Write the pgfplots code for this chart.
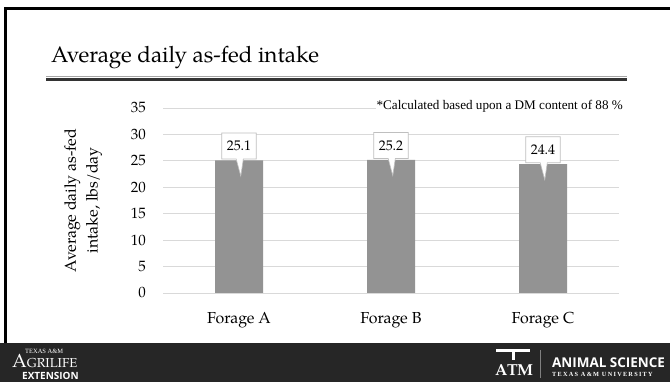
\documentclass[border=0pt]{standalone}
\usepackage{fontspec}
\setmainfont{TeX Gyre Pagella}
\newfontfamily\timesfont{Liberation Serif}
\newfontfamily\sansfont{Open Sans}
\newfontfamily\spacedfont[LetterSpace=20]{Liberation Serif}
\usepackage{pgfplots}
\pgfplotsset{compat=1.18}
\usetikzlibrary{shapes.callouts}
\definecolor{bargray}{HTML}{939393}
\definecolor{gridgray}{HTML}{D9D9D9}
\definecolor{footerc}{HTML}{262626}
\definecolor{calloutc}{HTML}{BFBFBF}
\begin{document}
\begin{tikzpicture}
\useasboundingbox (0bp,0bp) rectangle (670bp,382bp);
\begin{scope}[x=1bp,y=1bp]
\fill[white] (0,0) rectangle (670,382);
% footer band
\fill[footerc] (0,0) rectangle (670,39);
% frame
\fill[black] (4,39) rectangle (7,374.5);
\fill[black] (4,371.5) rectangle (670,374.5);
% title
\node[anchor=base west, inner sep=0pt, font=\fontsize{22.5}{27}\selectfont] at (51,320) {Average daily as-fed intake};
% title rules
\draw[gray!70, line width=0.8bp] (46,305.5) -- (627,305.5);
\fill[black!80] (46,300.5) rectangle (627,304);
\end{scope}
\begin{axis}[
  at={(163bp,89bp)}, anchor=south west,
  scale only axis, width=456bp, height=185bp,
  xmin=-0.5, xmax=2.5, ymin=0, ymax=35,
  ytick={0,5,10,15,20,25,30,35},
  xtick={0,1,2}, xticklabels={Forage A, Forage B, Forage C},
  axis line style={draw=none},
  major tick length=0pt,
  ymajorgrids, grid style={gridgray, line width=0.8bp},
  /pgf/number format/assume math mode=true,
  tick label style={font=\fontsize{15}{18}\selectfont},
  yticklabel style={anchor=east, inner sep=0pt, xshift=-17bp},
  xticklabel style={anchor=north, inner sep=0pt, yshift=-19bp, font=\fontsize{16}{19}\selectfont},
  ylabel={Average daily as-fed\\intake, lbs/day},
  ylabel style={align=center, font=\fontsize{16}{22}\selectfont, at={(axis description cs:-0.175,0.5)}, anchor=center},
  clip=false,
]
\addplot[ybar, bar width=48bp, fill=bargray, draw=none,
  nodes near coords,
  nodes near coords style={rectangle callout, fill=white, draw=calloutc, line width=0.6bp,
    font=\fontsize{14}{16}\selectfont, inner xsep=5bp, inner ysep=0pt, minimum height=26bp,
    anchor=south, yshift=1bp, callout relative pointer={(1bp,-17bp)},
    /pgf/number format/.cd, fixed, precision=1, assume math mode=true},
] coordinates {(0,25.1) (1,25.2) (2,24.4)};
\end{axis}
\begin{scope}[x=1bp,y=1bp]
% note
\node[anchor=east, fill=white, inner sep=1bp, font=\timesfont\fontsize{13.2}{15}\selectfont] at (624,276) {*Calculated based upon a DM content of 88 \%};
% footer logos left
\node[anchor=base west, inner sep=0pt, white, font=\timesfont\fontsize{6.5}{7}\selectfont] at (25,28.5) {TEXAS A\&M};
\node[anchor=base west, inner sep=0pt, white] at (12,15) {{\fontsize{19}{19}\selectfont A}{\fontsize{13}{14}\selectfont GRILIFE}};
\node[anchor=base west, inner sep=0pt, white, font=\sansfont\bfseries\fontsize{10}{11}\selectfont] at (22,3) {EXTENSION};
% footer logos right
\node[anchor=base west, inner sep=0pt, white, font=\bfseries\fontsize{16}{16}\selectfont] at (495,7) {A\kern-0.5bp T\kern-0.5bp M};
\fill[white] (496,30) rectangle (530,32.5);
\fill[white] (511.5,32.5) -- (511.5,22) -- (514.5,22) -- (514.5,32.5) -- cycle;
\draw[gray, line width=0.6bp] (540,32) -- (540,4);
\node[anchor=base west, inner sep=0pt, white, font=\sansfont\bfseries\fontsize{13.5}{15}\selectfont] at (552,14.5) {ANIMAL SCIENCE};
\node[anchor=base west, inner sep=0pt, white, font=\spacedfont\bfseries\fontsize{6.3}{7}\selectfont] at (552,5.5) {TEXAS A\&M UNIVERSITY};
\end{scope}
\end{tikzpicture}
\end{document}
